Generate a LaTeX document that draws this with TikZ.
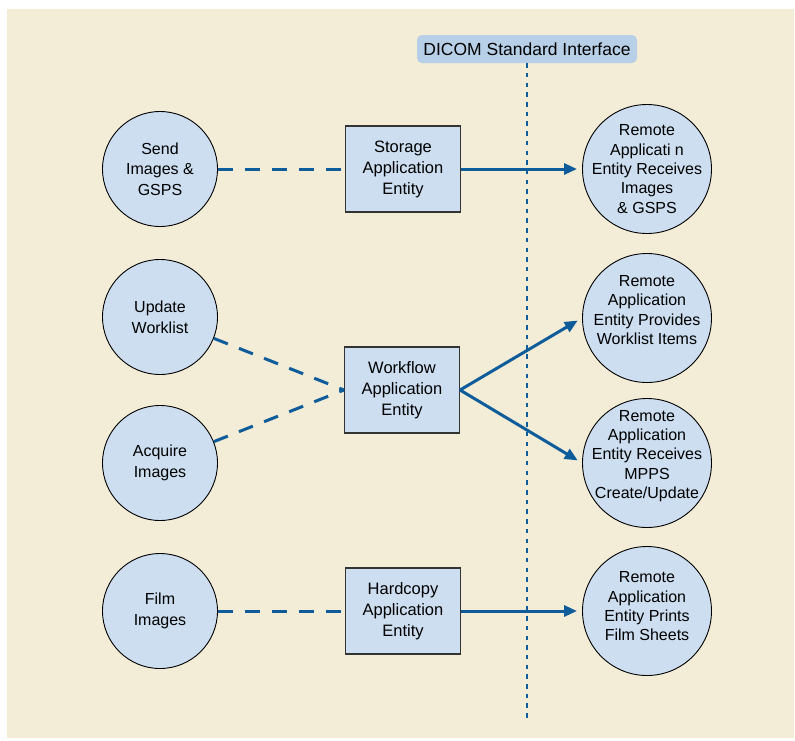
\documentclass[tikz,border=0pt]{standalone}
\usepackage{fontspec}
\setmainfont{Liberation Sans}
\usepackage{tikz}
\usetikzlibrary{positioning,arrows.meta}
\definecolor{paper}{HTML}{F3ECD6}
\definecolor{bubble}{HTML}{CCDEF0}
\definecolor{link}{HTML}{0F5C9B}
\definecolor{tag}{HTML}{B7D0E7}
\tikzset{
  activity/.style={circle, draw=black, line width=0.9pt, fill=bubble, minimum size=115pt, inner sep=0pt, align=center, font=\fontsize{16}{20.7}\selectfont},
  remote/.style={circle, draw=black, line width=0.9pt, fill=bubble, minimum size=129pt, inner sep=0pt},
  remotetext/.style={align=center, inner sep=0pt, font=\fontsize{16}{19.3}\selectfont},
  entity/.style={rectangle, draw=black!80, line width=1.1pt, fill=bubble, minimum width=115pt, minimum height=86pt, inner sep=0pt, align=center, font=\fontsize{16.5}{21}\selectfont},
  assoc/.style={draw=link, line width=3pt, dash pattern=on 15pt off 12pt},
  flow/.style={draw=link, line width=3pt, -{Triangle[length=13pt,width=11pt]}, shorten >=5pt},
}
\begin{document}
\begin{tikzpicture}[x=1pt, y=-1pt, font=\fontsize{16}{19.5}\selectfont]
\useasboundingbox (0,0) rectangle (795,740);
\fill[paper] (7,9) rectangle (794,738);

% Interface label and boundary
\node[fill=tag, rounded corners=5pt, minimum width=220pt, minimum height=28pt, inner sep=0pt, font=\fontsize{17.5}{20}\selectfont] (dicom) at (527,49) {DICOM Standard Interface};
\coordinate (bottom) at (527,721);
\draw[link, line width=1.8pt, dash pattern=on 4.5pt off 5.2pt] (dicom.south) -- (bottom);

% Local activities
\node[activity] (send) at (160,169) {Send\\Images \&\\GSPS};
\node[activity] (update) at (160,317) {Update\\Worklist};
\node[activity] (acquire) at (160,463) {Acquire\\Images};
\node[activity] (film) at (160,611) {Film\\Images};

% Application entities
\node[entity, right=127pt of send] (storage) {Storage\\Application\\Entity};
\node[entity] (workflow) at (402,390) {Workflow\\Application\\Entity};
\node[entity, right=127pt of film] (hardcopy) {Hardcopy\\Application\\Entity};

% Remote entities (text as label, so the circles keep their size)
\node[remote, label={[remotetext]center:Remote\\Applicati n\\Entity Receives\\Images\\\& GSPS}] (rstore) at (647,169) {};
\node[remote, label={[remotetext, yshift=8pt]center:Remote\\Application\\Entity Provides\\Worklist Items}] (rwork) at (647,318) {};
\node[remote, label={[remotetext, yshift=7pt]center:Remote\\Application\\Entity Receives\\MPPS\\Create/Update}] (rmpps) at (647,463) {};
\node[remote, label={[remotetext, yshift=4.5pt]center:Remote\\Application\\Entity Prints\\Film Sheets}] (rprint) at (647,611) {};

% Associations
\draw[assoc] (send) -- (storage);
\draw[assoc] (update) -- (workflow.west);
\draw[assoc] (acquire) -- (workflow.west);
\draw[assoc] (film) -- (hardcopy);

\draw[flow] (storage) -- (rstore);
\draw[flow] (workflow.east) -- (rwork.west);
\draw[flow] (workflow.east) -- (rmpps.west);
\draw[flow] (hardcopy) -- (rprint);

\end{tikzpicture}
\end{document}
